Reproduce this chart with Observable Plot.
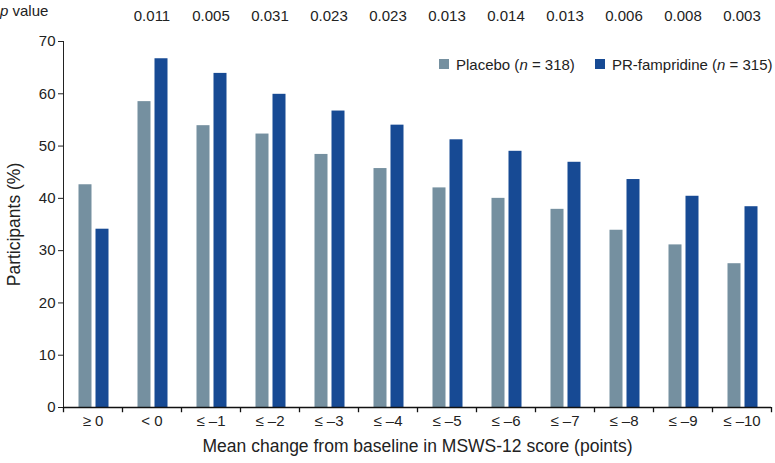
<!DOCTYPE html>
<html>
<head>
<meta charset="utf-8">
<script src="https://cdn.jsdelivr.net/npm/d3@7"></script>
<script src="https://cdn.jsdelivr.net/npm/@observablehq/plot@0.6"></script>
<style>
  html, body { margin: 0; padding: 0; background: #fff; }
  #wrap { position: relative; width: 775px; height: 463px; font-family: "Liberation Sans", Arial, sans-serif; color: #222; }
  #wrap svg { position: absolute; left: 0; top: 0; }
  .ov { position: absolute; font-size: 15px; white-space: nowrap; line-height: 1; }
  .sw { position: absolute; width: 10px; height: 10px; }
</style>
</head>
<body>
<div id="wrap"></div>
<script>
const categories = ["≥ 0", "< 0", "≤ –1", "≤ –2", "≤ –3", "≤ –4", "≤ –5", "≤ –6", "≤ –7", "≤ –8", "≤ –9", "≤ –10"];
const placebo = [42.6, 58.5, 53.9, 52.3, 48.4, 45.7, 42.0, 40.0, 37.9, 33.9, 31.1, 27.5];
const famp = [34.1, 66.7, 63.9, 59.9, 56.7, 54.0, 51.2, 49.0, 46.9, 43.6, 40.4, 38.4];
const pValues = ["0.011", "0.005", "0.031", "0.023", "0.023", "0.013", "0.014", "0.013", "0.006", "0.008", "0.003"];
const pCategories = categories.slice(1);
const yTicks = [0, 10, 20, 30, 40, 50, 60, 70];
const seriesNames = ["Placebo", "PR-fampridine"];
const colors = ["#7590a0", "#174a94"];

const W = 775, H = 463, mL = 63, mR = 4, mT = 41, mB = 56;
const bw = (W - mL - mR) / categories.length;

const placeboData = categories.map((c, i) => ({cat: c, v: placebo[i]}));
const fampData = categories.map((c, i) => ({cat: c, v: famp[i]}));
const pData = pCategories.map((c, i) => ({cat: c, p: pValues[i]}));

const chart = Plot.plot({
  width: W, height: H,
  marginLeft: mL, marginRight: mR, marginTop: mT, marginBottom: mB,
  style: {fontFamily: "Liberation Sans, Arial, sans-serif", fontSize: "15px", color: "#222", background: "transparent"},
  x: {type: "band", domain: categories, padding: 0, tickSize: 0, tickPadding: 8, label: null},
  y: {domain: [0, 70], ticks: yTicks, tickSize: 5, tickPadding: 3, line: true, label: null},
  marks: [
    Plot.barY(placeboData, {x: "cat", y: "v", fill: colors[0], insetLeft: 15.5, insetRight: 30.5}),
    Plot.barY(fampData, {x: "cat", y: "v", fill: colors[1], insetLeft: 32.5, insetRight: 13.5}),
    Plot.ruleY([0], {stroke: "#111", strokeWidth: 1.3}),
    Plot.ruleX(categories, {x: d => d, y1: 0, y2: -1, dx: -bw / 2, stroke: "#111", strokeWidth: 1.3}),
    Plot.ruleX(categories.slice(-1), {x: d => d, y1: 0, y2: -1, dx: bw / 2, stroke: "#111", strokeWidth: 1.3}),
    Plot.text(pData, {x: "cat", text: "p", frameAnchor: "top", dy: -31, fontSize: 15, fill: "#222"}),
    Plot.text(["Participants (%)"], {frameAnchor: "left", textAnchor: "middle", rotate: -90, dx: -49, fontSize: 17.5, fill: "#222"}),
    Plot.text(["Mean change from baseline in MSWS-12 score (points)"], {frameAnchor: "bottom", textAnchor: "middle", dy: 44, fontSize: 17.5, fill: "#222"})
  ]
});

const wrap = document.getElementById("wrap");
wrap.appendChild(chart);

function addDiv(cls, html, left, top, bg) {
  const d = document.createElement("div");
  d.className = cls;
  d.innerHTML = html;
  d.style.left = left + "px";
  d.style.top = top + "px";
  if (bg) d.style.background = bg;
  wrap.appendChild(d);
}
addDiv("ov", "<i>p</i> value", 0, 3);
addDiv("sw", "", 439, 59, colors[0]);
addDiv("ov", seriesNames[0] + " (<i>n</i> = 318)", 456, 57);
addDiv("sw", "", 595, 59, colors[1]);
addDiv("ov", seriesNames[1] + " (<i>n</i> = 315)", 612, 57);
</script>
</body>
</html>
